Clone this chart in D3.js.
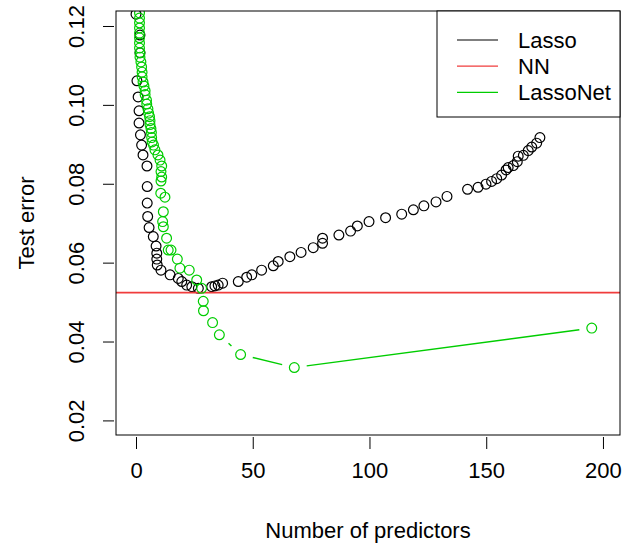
<!DOCTYPE html>
<html>

<head>
  <title>Test error</title>
  <script src="https://cdn.jsdelivr.net/npm/d3@7"></script>
  <style>
    body { margin: 0; background: #fff; }
    text { font-family: "Liberation Sans", Arial, sans-serif; }
  </style>
</head>

<body>
  <svg width="625" height="548" id="mainsvg"></svg>
  <script>
    // lasso path: number of predictors vs test error
    const lassoX = [0, 1.7, 1.7, 0.4, 0.9, 1.3, 1.3, 1.9, 2.4, 3.0, 4.7, 4.8, 4.8, 5.0, 5.6, 7.4, 8.6, 8.9, 8.9, 9.1,
      10.7, 14.6, 18.1, 19.6, 21.7, 23.9, 26.7, 32.4, 33.8, 35.2, 37.1, 43.8, 47.4, 49.6, 53.8, 58.8, 60.9, 65.9,
      70.7, 75.9, 79.9, 79.9, 86.9, 91.9, 94.8, 99.8, 106.9, 113.8, 118.8, 123.3, 128.5, 133.2, 142.0, 146.5,
      149.9, 152.3, 154.5, 156.6, 158.5, 159.4, 161.6, 163.3, 163.7, 165.9, 168.0, 169.5, 171.6, 173.0];
    const lassoY = [0.1230, 0.1177, 0.1132, 0.1061, 0.1020, 0.0985, 0.0954, 0.0924, 0.0898, 0.0873, 0.0845, 0.0793,
      0.0751, 0.0717, 0.0689, 0.0666, 0.0642, 0.0624, 0.0609, 0.0594, 0.0581, 0.0569, 0.0560, 0.0552, 0.0543,
      0.0539, 0.0535, 0.0539, 0.0541, 0.0543, 0.0548, 0.0552, 0.0563, 0.0569, 0.0581, 0.0592, 0.0603, 0.0615,
      0.0626, 0.0638, 0.0649, 0.0662, 0.0670, 0.0680, 0.0693, 0.0704, 0.0714, 0.0723, 0.0734, 0.0744, 0.0754,
      0.0768, 0.0786, 0.0791, 0.0799, 0.0806, 0.0813, 0.0822, 0.0835, 0.0841, 0.0846, 0.0856, 0.0870, 0.0872,
      0.0884, 0.0893, 0.0903, 0.0917];

    // LassoNet path (in path order)
    const netX = [1.5, 1.5, 1.5, 1.5, 1.5, 1.5, 1.5, 1.5, 1.7, 1.7, 2.1, 2.4, 2.6, 2.6, 3.0, 3.4, 3.9, 3.9, 4.5, 4.6,
      5.1, 5.4, 5.8, 6.0, 6.0, 6.4, 6.6, 6.7, 6.9, 7.5, 8.1, 9.4, 10.3, 11.0, 10.7, 11.0, 10.7, 10.6, 12.4, 11.7,
      11.4, 11.7, 13.1, 13.8, 15.0, 17.7, 18.8, 22.8, 26.0, 28.1, 28.8, 28.9, 32.8, 35.7, 44.8, 67.8, 195.2];
    const netY = [0.1233, 0.1220, 0.1208, 0.1195, 0.1182, 0.1170, 0.1157, 0.1144, 0.1132, 0.1121, 0.1109, 0.1096,
      0.1083, 0.1071, 0.1058, 0.1048, 0.1036, 0.1026, 0.1012, 0.1002, 0.0990, 0.0979, 0.0970, 0.0960, 0.0950,
      0.0940, 0.0930, 0.0917, 0.0906, 0.0898, 0.0886, 0.0873, 0.0860, 0.0845, 0.0831, 0.0817, 0.0807, 0.0776,
      0.0766, 0.0729, 0.0704, 0.0691, 0.0662, 0.0632, 0.0632, 0.0609, 0.0586, 0.0581, 0.0556, 0.0535, 0.0502,
      0.0478, 0.0448, 0.0417, 0.0367, 0.0334, 0.0434];

    // plain neural net baseline
    const nnError = 0.0524;

    const xTicks = [0, 50, 100, 150, 200];
    const yTicks = [0.02, 0.04, 0.06, 0.08, 0.10, 0.12];
    const legendNames = ['Lasso', 'NN', 'LassoNet'];
    const legendColors = ['black', '#f03c3c', '#00cd00'];

    const svg = d3.select('#mainsvg');
    const pLeft = 116, pRight = 620, pTop = 11, pBottom = 435;
    const fs = 22;

    const x = d3.scaleLinear().domain([-8.57, 207.3]).range([pLeft, pRight]);
    const y = d3.scaleLinear().domain([0.0163, 0.1238]).range([pBottom, pTop]);

    svg.append('clipPath').attr('id', 'plotclip')
      .append('rect').attr('x', pLeft).attr('y', pTop)
      .attr('width', pRight - pLeft).attr('height', pBottom - pTop);

    const plot = svg.append('g').attr('clip-path', 'url(#plotclip)');

    const lasso = lassoX.map((v, i) => ({ x: v, y: lassoY[i] }));
    const net = netX.map((v, i) => ({ x: v, y: netY[i] }));
    const rad = 4.9;

    plot.selectAll('circle.lasso').data(lasso).join('circle')
      .attr('class', 'lasso')
      .attr('cx', d => x(d.x))
      .attr('cy', d => y(d.y))
      .attr('r', rad)
      .attr('fill', 'none')
      .attr('stroke', 'black')
      .attr('stroke-width', 1.2);

    plot.append('line')
      .attr('x1', pLeft).attr('x2', pRight)
      .attr('y1', y(nnError)).attr('y2', y(nnError))
      .attr('stroke', legendColors[1])
      .attr('stroke-width', 1.8);

    // type "b": segments with a gap around each point
    const gap = 12.5;
    const segs = [];
    for (let i = 1; i < net.length; i++) {
      const x1 = x(net[i - 1].x), y1 = y(net[i - 1].y);
      const x2 = x(net[i].x), y2 = y(net[i].y);
      const len = Math.hypot(x2 - x1, y2 - y1);
      if (len > 2 * gap) {
        const ux = (x2 - x1) / len, uy = (y2 - y1) / len;
        segs.push([x1 + ux * gap, y1 + uy * gap, x2 - ux * gap, y2 - uy * gap]);
      }
    }
    plot.selectAll('line.seg').data(segs).join('line')
      .attr('class', 'seg')
      .attr('x1', d => d[0]).attr('y1', d => d[1])
      .attr('x2', d => d[2]).attr('y2', d => d[3])
      .attr('stroke', legendColors[2])
      .attr('stroke-width', 1.4);

    plot.selectAll('circle.net').data(net).join('circle')
      .attr('class', 'net')
      .attr('cx', d => x(d.x))
      .attr('cy', d => y(d.y))
      .attr('r', rad)
      .attr('fill', 'none')
      .attr('stroke', legendColors[2])
      .attr('stroke-width', 1.2);

    // box
    svg.append('rect')
      .attr('x', pLeft).attr('y', pTop)
      .attr('width', pRight - pLeft).attr('height', pBottom - pTop)
      .attr('fill', 'none').attr('stroke', 'black').attr('stroke-width', 1);

    // x axis
    const xAxis = svg.append('g')
      .attr('transform', `translate(0,${pBottom + 2})`)
      .call(d3.axisBottom(x).tickValues(xTicks).tickSize(12).tickPadding(13.5).tickFormat(d3.format('d')));
    xAxis.select('.domain').remove();
    xAxis.selectAll('line').attr('stroke', 'black');
    xAxis.selectAll('text').attr('font-size', fs).attr('font-family', null).attr('fill', 'black');

    // y axis, rotated labels
    const yAxis = svg.append('g')
      .attr('transform', `translate(${pLeft - 2},0)`)
      .call(d3.axisLeft(y).tickValues(yTicks).tickSize(11).tickFormat(d3.format('.2f')));
    yAxis.select('.domain').remove();
    yAxis.selectAll('line').attr('stroke', 'black');
    yAxis.selectAll('text')
      .attr('font-size', fs).attr('font-family', null).attr('fill', 'black')
      .attr('x', 0).attr('dy', '0.35em')
      .attr('text-anchor', 'middle')
      .attr('transform', `translate(${76 - (pLeft - 2)},0) rotate(-90)`);

    svg.append('text')
      .attr('x', (pLeft + pRight) / 2).attr('y', 538)
      .attr('text-anchor', 'middle').attr('font-size', fs)
      .text('Number of predictors');

    svg.append('text')
      .attr('transform', `translate(26,${(pTop + pBottom) / 2}) rotate(-90)`)
      .attr('dy', '0.35em')
      .attr('text-anchor', 'middle').attr('font-size', fs)
      .text('Test error');

    // legend
    const lg = svg.append('g');
    lg.append('rect')
      .attr('x', 437).attr('y', pTop)
      .attr('width', pRight - 437).attr('height', 106)
      .attr('fill', 'white').attr('stroke', 'black').attr('stroke-width', 1);
    const rows = lg.selectAll('g.row').data(legendNames).join('g')
      .attr('class', 'row')
      .attr('transform', (d, i) => `translate(0,${40 + i * 26.2})`);
    rows.append('line')
      .attr('x1', 457).attr('x2', 498)
      .attr('stroke', (d, i) => legendColors[i])
      .attr('stroke-width', 1.2);
    rows.append('text')
      .attr('x', 518).attr('dy', '0.35em')
      .attr('font-size', fs)
      .text(d => d);
  </script>
</body>

</html>
